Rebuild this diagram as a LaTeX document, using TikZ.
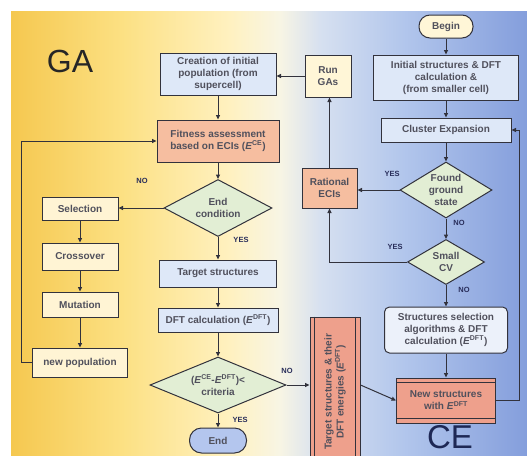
\documentclass[tikz,border=0pt]{standalone}
\usepackage{fontspec}
\setmainfont{Liberation Sans}
\usetikzlibrary{arrows.meta,shapes.geometric}
\definecolor{ya}{RGB}{245,200,80}
\definecolor{yb}{RGB}{252,224,130}
\definecolor{yc}{RGB}{255,241,192}
\definecolor{yd}{RGB}{248,245,228}
\definecolor{ba}{RGB}{214,224,240}
\definecolor{bb}{RGB}{178,198,236}
\definecolor{bc}{RGB}{132,158,220}
\definecolor{edgec}{RGB}{50,50,60}
\definecolor{txtc}{RGB}{80,80,92}
\definecolor{labc}{RGB}{40,45,90}
\definecolor{bluc}{RGB}{222,232,248}
\definecolor{yelc}{RGB}{255,246,215}
\definecolor{salc}{RGB}{246,190,160}
\definecolor{salb}{RGB}{238,160,140}
\definecolor{diac}{RGB}{226,238,212}
\definecolor{crmc}{RGB}{255,244,212}
\definecolor{pillb}{RGB}{180,198,238}
\definecolor{selc}{RGB}{236,241,250}
\definecolor{navy}{RGB}{30,40,85}
\pgfdeclarehorizontalshading{bgshade}{100bp}{color(0bp)=(ya); color(25bp)=(ya); color(35.6bp)=(yb); color(46.2bp)=(yc); color(51bp)=(yd); color(55bp)=(ba); color(63bp)=(bb); color(75bp)=(bc); color(100bp)=(bc)}
\begin{document}
\begin{tikzpicture}[x=1pt,y=-1pt,>={Triangle[length=4.5pt,width=4pt]},
  every node/.style={font=\fontsize{10}{12}\selectfont\bfseries,text=txtc,align=center},
  box/.style={draw=edgec,line width=1pt,rectangle,inner sep=1pt},
  dia/.style={draw=edgec,line width=1pt,diamond,aspect=1.7,inner sep=0pt,fill=diac},
  lab/.style={font=\fontsize{7.5}{8}\selectfont\bfseries,text=labc},
  flow/.style={->,draw=edgec,line width=1pt}]
\fill[white] (0,0) rectangle (527,455);
\clip (0,0) rectangle (527,455);
\fill[shading=bgshade] (11,11) rectangle (527,455);
\node[font=\fontsize{32}{32}\selectfont,text=black!85,anchor=base] (ga) at (70,72) {GA};
\node[font=\fontsize{33}{33}\selectfont,text=navy,anchor=base,inner sep=0pt] (ce) at (450,448) {CE};
\node[box,fill=yelc,rounded corners=11pt,minimum width=54,minimum height=23] (begin) at (446,26.5) {Begin};
\node[box,fill=bluc,minimum width=145,minimum height=45] (init) at (446,77.5) {Initial structures \& DFT\\calculation \&\\(from smaller cell)};
\node[box,fill=bluc,minimum width=130,minimum height=24] (clus) at (446,130) {Cluster Expansion};
\node[dia,aspect=1.6,inner sep=-3pt,minimum width=92,minimum height=56] (found) at (446,190) {Found\\ground\\state};
\node[dia,minimum width=77,minimum height=45] (small) at (446,262) {Small\\CV};
\node[box,fill=selc,rounded corners=5pt,minimum width=123,minimum height=46] (ssel) at (446,330) {Structures selection\\algorithms \& DFT\\calculation (\textit{E}\textsuperscript{DFT})};
\node[box,fill=salb,minimum width=99,minimum height=45] (news) at (446,400.5) {New structures\\with \textit{E}\textsuperscript{DFT}};
\node[box,fill=yelc,minimum width=46,minimum height=42] (run) at (328,76) {Run\\GAs};
\node[box,fill=salc,minimum width=55,minimum height=40] (rat) at (329.5,188) {Rational\\ECIs};
\node[box,fill=bluc,minimum width=116,minimum height=42] (crea) at (218,74) {Creation of initial\\population (from\\supercell)};
\node[box,fill=salc,minimum width=122,minimum height=42] (fit) at (218,141) {Fitness assessment\\based on ECIs (\textit{E}\textsuperscript{CE})};
\node[dia,minimum width=108,minimum height=57] (endc) at (218,208) {End\\condition};
\node[box,fill=crmc,minimum width=76,minimum height=23] (sel) at (80,208.5) {Selection};
\node[box,fill=crmc,minimum width=76,minimum height=27] (cross) at (80,256.5) {Crossover};
\node[box,fill=crmc,minimum width=76,minimum height=25] (mut) at (80,304.5) {Mutation};
\node[box,fill=crmc,minimum width=95,minimum height=29] (newp) at (80,362.5) {new population};
\node[box,fill=bluc,minimum width=117,minimum height=27] (targ) at (218,273.5) {Target structures};
\node[box,fill=bluc,minimum width=120,minimum height=24] (dft) at (218,320) {DFT calculation (\textit{E}\textsuperscript{DFT})};
\node[dia,aspect=2.4,minimum width=136,minimum height=56] (crit) at (218,385) {(\textit{E}\textsuperscript{CE}-\textit{E}\textsuperscript{DFT})<\\criteria};
\node[box,fill=pillb,rounded corners=12pt,minimum width=57,minimum height=25] (endn) at (218,440.5) {End};
\node[box,fill=salb,rotate=90,minimum width=150,minimum height=50] (tse) at (335,392) {Target structures \& their\\DFT energies (\textit{E}\textsuperscript{DFT})};
\draw[edgec,line width=0.8pt] ([xshift=5pt]tse.north east) -- ([xshift=5pt]tse.north west);
\draw[edgec,line width=0.8pt] ([xshift=-5pt]tse.south east) -- ([xshift=-5pt]tse.south west);
\draw[edgec,line width=0.8pt] ([yshift=-5pt]news.north west) -- ([yshift=-5pt]news.north east);
\draw[edgec,line width=0.8pt] ([yshift=5pt]news.south west) -- ([yshift=5pt]news.south east);
\foreach \a/\b in {begin/init,init/clus,clus/found,found/small,small/ssel,ssel/news,crea/fit,fit/endc,endc/targ,targ/dft,dft/crit,crit/endn,sel/cross,cross/mut,mut/newp}
  \draw[flow] (\a) -- (\b);
\draw[flow] (found.west) -- (found.west -| rat.east);
\draw[flow] (small.west) -| (rat.south);
\draw[flow] (rat.north) -- (rat.north |- run.south);
\draw[flow] (run.west) -- (run.west -| crea.east);
\draw[flow] (endc.west) -- (endc.west -| sel.east);
\draw[flow] (newp.west) -- ++(-11,0) |- (fit.west);
\draw[flow] (crit.east) -- (crit.east -| tse.north);
\draw[flow] (crit.east -| tse.south) -- (news.west);
\draw[flow] (news.east) -- ++(23,0) |- (clus.east);
\node[lab] (no1) at (142,181) {NO};
\node[lab] (yes1) at (241,240) {YES};
\node[lab] (yes2) at (240,420) {YES};
\node[lab] (no2) at (287,371) {NO};
\node[lab] (yes3) at (392,174) {YES};
\node[lab] (no3) at (459,223) {NO};
\node[lab] (yes4) at (395,247) {YES};
\node[lab] (no4) at (464,290) {NO};
\end{tikzpicture}
\end{document}
